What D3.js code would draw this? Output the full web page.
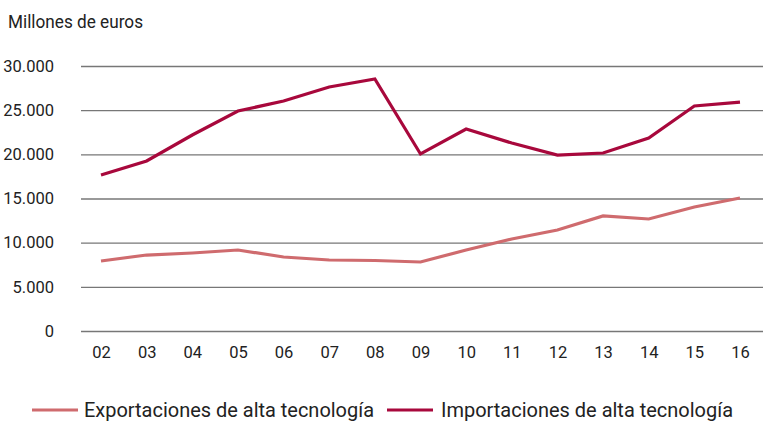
<!DOCTYPE html>
<html><head><meta charset="utf-8">
<script src="https://cdn.jsdelivr.net/npm/d3@7"></script>
<style>body{margin:0;background:#fff}svg{display:block}text{font-family:Roboto,"Liberation Sans",sans-serif;fill:#222}</style>
</head><body><svg id="c" width="763" height="422"></svg>
<script>
const years = ["02","03","04","05","06","07","08","09","10","11","12","13","14","15","16"];
const exportaciones = [7925,8600,8830,9170,8380,8040,7980,7810,9170,10415,11430,13020,12680,14040,15060];
const importaciones = [17660,19245,22190,24900,26040,27620,28530,20040,22870,21280,19920,20150,21850,25470,25920];
const yTicks = [0,5000,10000,15000,20000,25000,30000];
const seriesNames = ["Exportaciones de alta tecnología","Importaciones de alta tecnología"];
const colors = ["#cf6b6e","#a8083c"];

const svg = d3.select("#c");
const x = d3.scalePoint().domain(years).range([101,740]);
const y = d3.scaleLinear().domain([0,30000]).range([331,66]);
const fmt = v => d3.format(",")(v).replace(/,/g,".");

svg.append("text").attr("x",8).attr("y",28).attr("font-size",18)
  .attr("textLength",135).attr("lengthAdjust","spacingAndGlyphs").text("Millones de euros");

const yAxis = svg.append("g").attr("transform","translate(81,0)")
  .call(d3.axisLeft(y).tickValues(yTicks).tickFormat(fmt).tickSize(-682).tickPadding(27));
yAxis.select(".domain").remove();
yAxis.selectAll("line").attr("stroke","#777").attr("stroke-width",1.3);
yAxis.selectAll("text").attr("font-size",16.5).attr("fill","#222").style("font-family",'Roboto,"Liberation Sans",sans-serif');

const xAxis = svg.append("g").attr("transform","translate(0,331)")
  .call(d3.axisBottom(x).tickSize(0).tickPadding(15));
xAxis.select(".domain").remove();
xAxis.selectAll("text").attr("font-size",16.5).attr("fill","#222").style("font-family",'Roboto,"Liberation Sans",sans-serif');

const line = d3.line().x((d,i)=>x(years[i])).y(d=>y(d));
[exportaciones, importaciones].forEach((s,k)=>{
  svg.append("path").datum(s).attr("d",line).attr("fill","none")
    .attr("stroke",colors[k]).attr("stroke-width",3.2).attr("stroke-linejoin","miter");
});

const lg = [{x:32,tx:84,w:290},{x:387,tx:441,w:292}];
seriesNames.forEach((n,k)=>{
  svg.append("line").attr("x1",lg[k].x).attr("x2",lg[k].x+46).attr("y1",410).attr("y2",410)
    .attr("stroke",colors[k]).attr("stroke-width",3.2);
  svg.append("text").attr("x",lg[k].tx).attr("y",417).attr("font-size",20)
    .attr("textLength",lg[k].w).attr("lengthAdjust","spacingAndGlyphs").text(n);
});
</script></body></html>
